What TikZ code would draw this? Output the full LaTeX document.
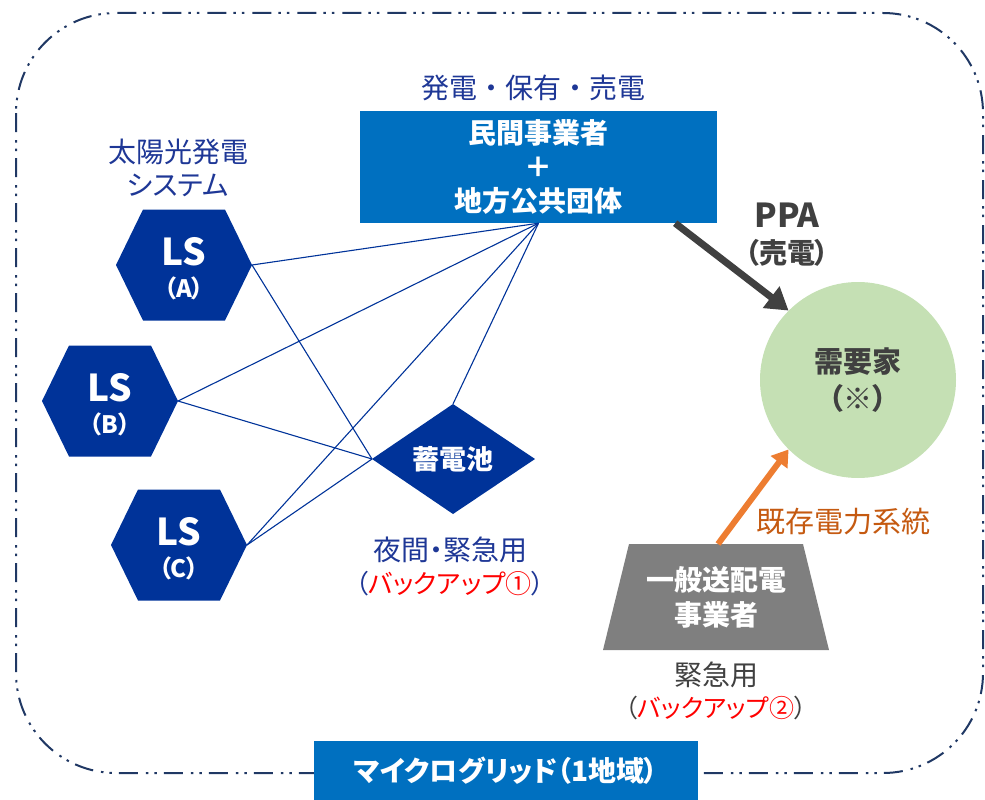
\documentclass[tikz,border=0pt]{standalone}
\usepackage{fontspec}
\setmainfont{Noto Sans CJK JP}[RawFeature=+palt]
\newfontfamily\jpfull{Noto Sans CJK JP}
\usetikzlibrary{arrows.meta}
\definecolor{navy}{RGB}{32,56,100}
\definecolor{lsblue}{RGB}{0,51,153}
\definecolor{txtblue}{RGB}{30,55,150}
\definecolor{boxblue}{RGB}{0,112,192}
\definecolor{dgray}{RGB}{64,64,64}
\definecolor{otext}{RGB}{197,90,17}
\definecolor{oarrow}{RGB}{237,125,49}
\definecolor{lgreen}{RGB}{197,224,180}
\definecolor{tgray}{RGB}{127,127,127}
\definecolor{bred}{RGB}{255,0,0}
\newcommand\fsz[2]{\fontsize{#1}{#2}\selectfont}
\newcommand\hexag[4]{%
  \fill[lsblue] (#2-68,#3) -- (#2-41,#3-55.5) -- (#2+41,#3-55.5) -- (#2+68,#3)
     -- (#2+41,#3+55.5) -- (#2-41,#3+55.5) -- cycle;
  \coordinate (#1) at (#2+68,#3);
  \node[lsbig] (#1-ls) at (#2,#3-13) {LS};
  \node[lssmall] (#1-id) at (#2,#3+23) {（#4）};}
\begin{document}
\begin{tikzpicture}[x=1pt,y=-1pt,
  border/.style={draw=navy, line width=2pt,
    dash pattern=on 19pt off 8pt on 2.5pt off 6pt on 2.5pt off 7pt,
    rounded corners=100pt},
  link/.style={draw=lsblue, line width=1.1pt},
  wtext/.style={text=white, font=\bfseries, align=center, inner sep=0pt},
  lsbig/.style={wtext, font=\bfseries\fsz{37}{37}},
  lssmall/.style={wtext, font=\bfseries\fsz{24}{24}},
  btext/.style={text=txtblue, align=center, inner sep=0pt},
  ppa/.style={draw=dgray, line width=7pt, -{Triangle[width=26pt,length=22pt]}},
  oarr/.style={draw=oarrow, line width=6pt, -{Triangle[width=20pt,length=16pt]}},
]
\useasboundingbox (0,0) rectangle (985,800);
% border
\draw[border] (16,13) rectangle (983,773);

% top box
\node[fill=boxblue, minimum width=357pt, minimum height=112pt, inner sep=0pt,
      text=white, font=\bfseries\fsz{28}{34}, align=center] (top) at (538.5,167)
      {民間事業者\\＋\\地方公共団体};
\node[btext, font=\jpfull\fsz{28}{28}] (toplabel) at (533,88) {発電・保有・売電};
\coordinate (hub) at (top.south);

% solar label
\node[btext, font=\fsz{28}{33}] (solar) at (178,168) {太陽光発電\\システム};

% hexagons
\hexag{A}{184}{265}{A}
\hexag{B}{110}{401}{B}
\hexag{C}{179}{545}{C}

% battery diamond
\fill[lsblue] (372,459) -- (453,404) -- (535,459) -- (453,514) -- cycle;
\coordinate (bat-l) at (372,459);
\coordinate (bat-t) at (453,404);
\node[wtext, font=\bfseries\fsz{27}{27}] (bat) at (453,459) {蓄電池};
\node[btext, font=\fsz{28}{33}] (batlabel) at (450,566)
  {夜間・緊急用\\{\fsz{26}{26}（{\color{bred}バックアップ①}）}};

% links
\draw[link] (hub) -- (A);
\draw[link] (hub) -- (B);
\draw[link] (hub) -- (C);
\draw[link] (hub) -- (bat-t);
\draw[link] (bat-l) -- (A);
\draw[link] (bat-l) -- (B);
\draw[link] (bat-l) -- (C);

% customer
\node[circle, fill=lgreen, minimum size=196pt, inner sep=0pt, text=dgray,
      font=\bfseries\fsz{29}{37}, align=center] (cust) at (858,380) {需要家\\（※）};

% PPA arrow
\coordinate (ppaS) at ([xshift=-42pt]top.south east);
\draw[ppa] (ppaS) -- (cust.135);
\node[text=dgray, font=\bfseries\fsz{33}{33}, inner sep=0pt] (ppalabel) at (787,215) {PPA};
\node[text=dgray, font=\bfseries\fsz{28}{28}, inner sep=0pt] (ppasub) at (787,253) {（売電）};

% grid operator
\fill[tgray] (629,544) -- (803,544) -- (829,650) -- (603,650) -- cycle;
\coordinate (trap-t) at (718,544);
\node[wtext, font=\bfseries\fsz{28}{35}] (trap) at (716,597) {一般送配電\\事業者};
\draw[oarr] (trap-t) -- (cust.225);
\node[text=otext, font=\fsz{29}{29}, inner sep=0pt] (grid) at (843,522) {既存電力系統};
\node[text=dgray, font=\fsz{28}{32}, align=center, inner sep=0pt] (traplabel) at (716,691)
  {緊急用\\{\fsz{25}{25}（{\color{bred}バックアップ②}）}};

% bottom label
\node[fill=boxblue, minimum width=384pt, minimum height=59pt, inner sep=0pt,
      anchor=north west, text=white, font=\bfseries\fsz{28}{28}] (mg) at (314,741)
      {マイクログリッド（1地域）};
\end{tikzpicture}
\end{document}
